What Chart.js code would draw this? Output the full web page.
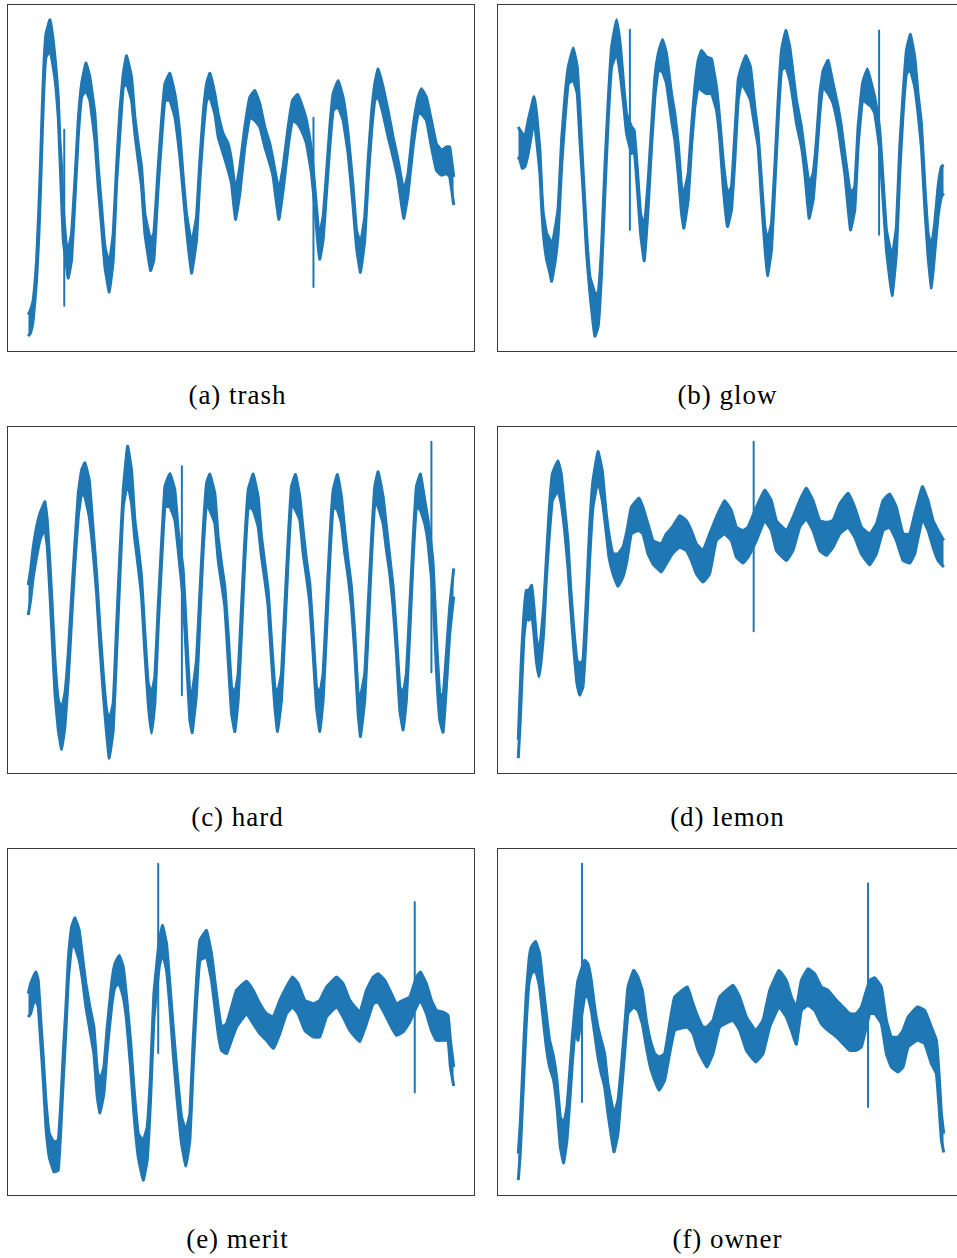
<!DOCTYPE html>
<html>
<head>
<meta charset="utf-8">
<script src="https://cdn.jsdelivr.net/npm/chart.js@4.4.1/dist/chart.umd.min.js"></script>
<style>
    html, body { margin: 0; padding: 0; background: #fff; }
    body { position: relative; width: 957px; height: 1258px; overflow: hidden; }
    canvas.panel { position: absolute; }
    .cap {
        position: absolute; width: 475px; height: 30px; line-height: 30px;
        text-align: center; color: #000;
        font-family: "Liberation Serif", "DejaVu Serif", serif; font-size: 27px; letter-spacing: 1px;
    }
</style>
</head>
<body>
<canvas class="panel" id="pa" width="468" height="348" style="left:7px;top:4px"></canvas>
<canvas class="panel" id="pb" width="468" height="348" style="left:497px;top:4px"></canvas>
<canvas class="panel" id="pc" width="468" height="348" style="left:7px;top:426px"></canvas>
<canvas class="panel" id="pd" width="468" height="348" style="left:497px;top:426px"></canvas>
<canvas class="panel" id="pe" width="468" height="348" style="left:7px;top:848px"></canvas>
<canvas class="panel" id="pf" width="468" height="348" style="left:497px;top:848px"></canvas>
<div class="cap" id="ca" style="left:0;top:380px"></div>
<div class="cap" id="cb" style="left:490px;top:380px"></div>
<div class="cap" id="cc" style="left:0;top:802px"></div>
<div class="cap" id="cd" style="left:490px;top:802px"></div>
<div class="cap" id="ce" style="left:0;top:1224px"></div>
<div class="cap" id="cf" style="left:490px;top:1224px"></div>
<script>
// Six signaux bruités : pour chaque panneau, t = temps, hi/lo = enveloppe haute/basse du bruit,
// spike* = pics isolés (une seule valeur aberrante, tracée comme un trait vertical)
const captions = ['(a) trash', '(b) glow', '(c) hard', '(d) lemon', '(e) merit', '(f) owner'];

// (a) trash
const tA = [85,92,100,110,117,122,127,132,138,150,160,168,175,180,185,190,200,205,215,225,235,245,258,270,285,295,305,315,328,340,350,360,370,380,395,405,415,425,435,452,462,475,485,495,510,525,540,550,560,575,590,600,610,620,630,645,655,670,685,695,707,720,735,750,765,780,795,810,820,837,850,865,878,893,905,920,935,945,955,960,970,980,990,1000,1015,1030,1045,1060,1070,1082,1095,1105,1115,1125,1135,1150,1165,1180,1195,1212,1225,1240,1255,1265,1280,1295,1310,1325,1340,1350,1362];
const hiA = [155,170,200,320,480,620,780,910,1000,1043,980,900,810,680,600,480,360,350,400,560,740,850,913,870,760,600,480,360,310,400,600,770,880,935,870,750,670,600,460,380,400,600,740,850,882,820,700,570,460,370,450,620,760,850,882,820,760,700,670,620,530,600,720,810,830,790,720,670,620,530,600,720,800,818,790,740,650,540,420,400,450,580,720,820,860,810,700,540,410,370,450,620,760,850,895,840,770,690,620,530,580,720,810,835,810,740,670,650,660,660,570];
const loA = [90,100,140,260,400,540,700,840,930,950,900,840,750,630,500,380,300,265,320,500,690,810,830,800,680,540,420,300,223,320,550,700,840,850,800,700,620,540,400,288,320,540,680,800,800,750,630,520,410,280,380,560,700,800,810,760,690,640,590,550,442,520,660,750,740,720,660,610,570,442,530,660,740,730,710,670,580,480,360,322,380,520,660,770,780,740,640,480,360,282,380,560,700,800,810,760,690,630,560,445,520,660,760,760,740,660,590,575,580,570,485];
const spikeTA = [193, 941];
const spikeHiA = [712, 748];
const spikeLoA = [182, 238];

// (b) glow
const tB = [85,90,97,105,115,122,132,140,150,155,160,170,180,185,195,205,215,225,235,250,262,270,280,290,300,315,325,335,345,355,365,380,392,402,410,425,433,442,452,463,475,485,495,505,518,530,545,555,565,575,582,595,605,615,625,635,650,665,680,690,700,713,725,735,745,755,768,782,795,805,815,825,833,845,855,865,875,888,900,910,920,935,945,958,970,980,990,1000,1015,1030,1045,1055,1065,1082,1095,1105,1118,1133,1145,1155,1170,1180,1190,1207,1220,1230,1240,1250,1262,1275,1285,1295,1305,1315,1325,1335,1345,1355,1362];
const hiB = [720,710,700,690,740,770,810,760,650,540,460,400,380,360,410,480,680,810,900,957,900,770,580,400,270,220,220,360,600,800,960,1042,960,840,760,720,710,600,460,420,560,720,870,940,983,940,820,760,670,540,520,580,720,840,920,950,930,925,840,740,620,520,540,700,860,900,935,900,780,700,560,420,380,430,600,800,950,1010,960,880,800,720,640,550,580,680,820,890,920,850,780,720,640,520,540,720,850,895,850,810,710,560,410,330,420,660,820,950,998,930,820,730,550,400,360,430,540,600,605];
const loB = [630,620,595,600,640,680,740,680,580,480,400,320,280,255,310,400,600,740,850,860,820,680,520,340,220,90,120,280,520,740,900,940,870,780,700,640,650,540,400,317,480,660,810,890,885,850,740,680,580,460,415,500,660,780,840,830,820,820,770,680,540,420,470,620,800,850,830,800,720,660,500,360,272,350,540,740,890,900,860,800,730,660,580,445,500,620,760,840,820,790,720,650,580,410,470,660,800,790,780,760,650,500,350,212,340,580,760,880,890,840,760,660,480,330,235,340,450,510,520];
const spikeTB = [420, 1168];
const spikeHiB = [1012, 1010];
const spikeLoB = [410, 395];

// (c) hard
const tC = [85,92,100,110,120,128,135,142,150,157,165,175,185,195,205,215,225,235,245,255,268,280,290,300,310,320,328,340,350,360,370,383,395,405,415,425,435,445,455,465,475,485,495,510,525,535,550,560,570,577,590,600,610,620,630,645,655,665,675,685,695,705,715,725,735,745,760,775,785,795,805,815,825,833,845,855,865,875,887,900,910,920,930,940,950,960,970,980,990,1000,1013,1025,1035,1045,1055,1065,1075,1082,1095,1105,1115,1125,1135,1150,1160,1170,1180,1190,1200,1210,1220,1230,1240,1250,1262,1275,1285,1300,1310,1320,1330,1340,1350,1362];
const hiC = [605,650,720,780,820,840,855,800,670,540,380,260,235,280,400,570,730,880,950,972,920,770,640,480,340,230,200,250,480,700,890,1022,950,800,720,630,460,310,280,330,540,730,900,940,890,770,650,460,280,280,380,580,770,910,938,880,750,670,600,460,300,280,340,540,740,890,938,870,750,670,590,440,300,280,340,540,740,900,937,870,770,680,610,460,300,280,340,540,740,890,937,870,770,680,600,460,280,270,340,540,740,900,945,870,780,690,600,460,300,280,340,540,740,900,938,860,800,670,450,280,270,400,540,655];
const loC = [515,560,630,690,740,760,770,720,580,440,280,170,112,180,320,500,670,810,880,870,810,700,580,420,280,160,85,170,400,630,840,910,850,740,660,570,400,250,160,250,480,670,840,840,800,710,560,380,200,162,280,500,710,850,830,790,680,610,540,380,220,165,260,460,680,840,830,780,690,620,540,380,240,165,260,460,680,850,830,800,700,630,550,400,240,165,260,460,680,840,830,790,700,630,540,400,220,150,260,460,680,850,840,790,710,640,540,400,230,170,260,460,680,840,830,790,730,570,350,200,163,300,460,570];
const spikeTC = [546, 1295];
const spikeHiC = [962, 1035];
const spikeLoC = [274, 343];

// (d) lemon
const tD = [86,92,97,103,110,118,126,133,140,148,155,162,170,178,188,205,215,225,235,243,252,262,270,280,290,300,310,325,338,348,358,370,385,400,412,425,448,460,475,490,515,530,548,570,590,605,620,640,660,680,705,725,740,760,775,800,825,845,860,890,910,930,950,970,990,1010,1030,1050,1075,1095,1115,1140,1160,1180,1200,1220,1240,1260,1275,1298,1315,1330,1345,1362];
const hiD = [140,300,420,520,590,590,605,540,450,400,460,540,680,820,940,980,940,840,740,600,480,380,370,380,560,780,920,1008,950,840,760,700,700,720,770,840,868,840,790,740,730,760,780,815,800,770,730,710,760,810,860,830,780,770,780,840,892,860,800,770,810,860,898,860,800,795,800,850,882,840,780,760,790,860,880,840,760,760,820,902,860,800,770,740];
const loD = [85,200,320,450,510,500,520,460,380,330,380,460,620,740,860,890,850,770,660,540,420,310,275,300,460,680,840,920,860,780,690,640,602,630,680,760,770,760,700,670,645,670,700,720,710,680,640,615,640,740,760,740,690,672,690,740,800,770,710,680,710,780,805,770,710,695,720,760,780,750,700,667,700,770,780,740,680,672,700,805,770,720,680,660];
const spikeTD = [792];
const spikeHiD = [1037];
const spikeLoD = [467];

// (e) merit
const tE = [85,92,100,108,115,122,130,138,148,162,175,182,190,198,205,215,225,238,248,258,270,282,292,300,312,322,335,345,358,370,380,392,402,415,430,442,452,462,478,488,500,510,520,532,545,558,570,580,590,600,620,635,645,655,665,680,695,710,740,760,780,800,820,840,860,878,895,915,940,960,980,1010,1030,1050,1080,1100,1120,1135,1155,1175,1190,1210,1230,1250,1262,1280,1295,1310,1330,1345,1352,1362];
const hiE = [640,670,690,705,680,570,450,320,220,195,200,300,460,600,740,840,868,830,750,670,600,540,410,380,420,540,670,730,755,720,630,500,360,220,200,240,400,640,800,845,790,670,540,400,270,230,280,500,680,800,830,760,680,600,540,550,600,650,677,650,610,580,570,620,660,690,670,620,610,620,660,690,670,620,585,650,690,700,680,640,610,620,630,690,705,670,620,590,585,575,500,420];
const loE = [570,580,610,620,600,500,380,240,150,105,110,220,380,530,680,780,780,740,680,600,530,460,330,282,340,470,600,660,670,630,560,420,280,150,80,140,320,560,720,760,710,600,460,320,190,123,200,420,610,740,750,680,600,520,470,460,500,540,580,550,520,500,475,520,580,600,580,530,510,510,570,600,570,530,496,550,610,615,580,540,515,525,555,600,620,580,530,500,500,500,420,363];
const spikeTE = [475, 1245];
const spikeHiE = [1030, 915];
const spikeLoE = [462, 343];

// (f) owner
const tF = [86,92,97,103,110,118,125,138,150,160,170,180,192,202,212,222,232,240,248,258,265,285,295,305,315,325,335,345,355,373,385,395,405,415,432,445,458,470,482,495,508,525,540,555,593,610,625,640,652,670,690,730,750,770,798,820,840,868,890,905,920,935,955,975,995,1015,1040,1060,1080,1100,1115,1140,1155,1175,1190,1205,1225,1240,1255,1283,1305,1325,1340,1348,1355,1362];
const hiF = [160,250,360,500,640,740,780,797,760,670,580,500,450,380,270,250,300,400,510,620,680,740,730,680,600,540,500,460,370,280,320,420,540,660,710,690,650,560,500,460,450,460,550,630,660,610,570,540,540,560,630,665,630,570,530,560,650,710,680,630,600,680,715,700,660,650,620,600,580,580,600,680,688,660,560,510,510,530,570,600,590,540,500,400,280,220];
const loF = [80,160,270,400,550,670,700,710,660,570,480,420,380,300,180,132,200,310,430,540,500,630,630,590,520,450,400,360,280,165,220,340,460,580,600,590,550,480,420,380,350,380,460,530,540,520,470,440,420,460,540,560,530,470,435,460,540,600,570,530,488,590,605,590,550,530,510,490,470,470,480,580,580,550,460,420,405,420,480,500,490,430,400,300,200,163];
const spikeTF = [277, 1135];
const spikeHiF = [1030, 972];
const spikeLoF = [315, 300];

const COLOR = '#1f77b4';

const panels = [
    { canvas: 'pa', cap: 'ca', t: tA, hi: hiA, lo: loA, st: spikeTA, sh: spikeHiA, sl: spikeLoA },
    { canvas: 'pb', cap: 'cb', t: tB, hi: hiB, lo: loB, st: spikeTB, sh: spikeHiB, sl: spikeLoB },
    { canvas: 'pc', cap: 'cc', t: tC, hi: hiC, lo: loC, st: spikeTC, sh: spikeHiC, sl: spikeLoC },
    { canvas: 'pd', cap: 'cd', t: tD, hi: hiD, lo: loD, st: spikeTD, sh: spikeHiD, sl: spikeLoD },
    { canvas: 'pe', cap: 'ce', t: tE, hi: hiE, lo: loE, st: spikeTE, sh: spikeHiE, sl: spikeLoE },
    { canvas: 'pf', cap: 'cf', t: tF, hi: hiF, lo: loF, st: spikeTF, sh: spikeHiF, sl: spikeLoF }
];

// cadre autour de la zone de tracé (comme les axes matplotlib sans graduations)
const framePlugin = {
    id: 'frame',
    afterDraw(chart) {
        const { ctx, chartArea: a } = chart;
        ctx.save();
        ctx.strokeStyle = '#3a3a3a';
        ctx.lineWidth = 1;
        ctx.strokeRect(a.left + 0.5, a.top + 0.5, a.right - a.left - 1, a.bottom - a.top - 1);
        ctx.restore();
    }
};

// marge de 5% de chaque côté, comme l'autoscale par défaut
function paddedRange(values) {
    const lo = Math.min(...values);
    const hi = Math.max(...values);
    const m = (hi - lo) * 0.05;
    return [lo - m, hi + m];
}

function drawPanel(p, label) {
    const toPoints = ys => p.t.map((t, i) => ({ x: t, y: ys[i] }));
    const lineStyle = { borderColor: COLOR, borderWidth: 3, pointRadius: 0, tension: 0.1, borderJoinStyle: 'round' };

    const datasets = [
        { ...lineStyle, data: toPoints(p.hi), fill: false },
        { ...lineStyle, data: toPoints(p.lo), backgroundColor: COLOR, fill: '-1' }
    ];
    p.st.forEach((t, i) => {
        datasets.push({ ...lineStyle, borderWidth: 2, tension: 0, data: [{ x: t, y: p.sh[i] }, { x: t, y: p.sl[i] }], fill: false });
    });

    const [xmin, xmax] = paddedRange(p.t);
    const [ymin, ymax] = paddedRange([...p.hi, ...p.lo, ...p.sh, ...p.sl]);

    new Chart(document.getElementById(p.canvas), {
        type: 'line',
        data: { datasets },
        options: {
            responsive: false,
            animation: false,
            layout: { padding: 0 },
            plugins: { legend: { display: false }, tooltip: { enabled: false } },
            scales: {
                x: { type: 'linear', display: false, min: xmin, max: xmax },
                y: { type: 'linear', display: false, min: ymin, max: ymax }
            }
        },
        plugins: [framePlugin]
    });

    document.getElementById(p.cap).textContent = label;
}

panels.forEach((p, i) => drawPanel(p, captions[i]));
</script>
</body>
</html>
